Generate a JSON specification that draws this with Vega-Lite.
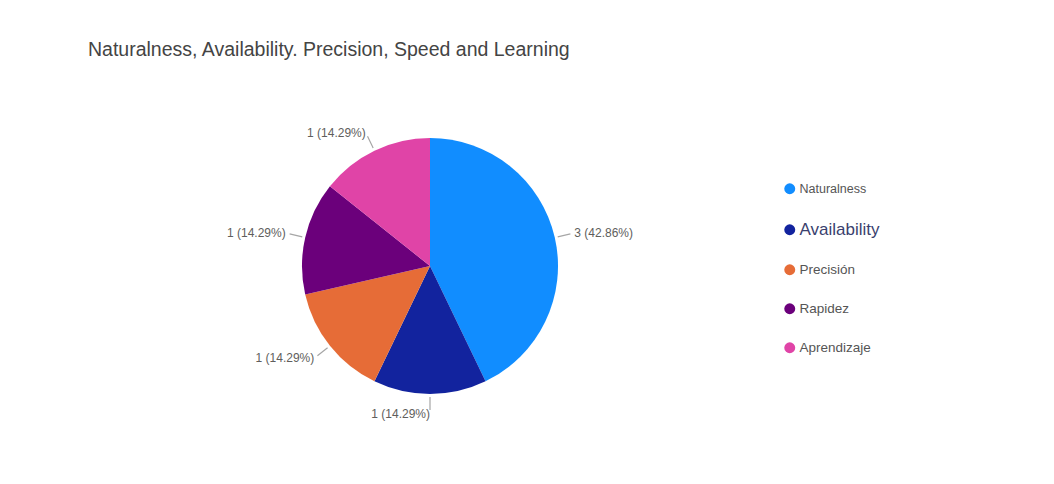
{
  "$schema": "https://vega.github.io/schema/vega-lite/v6.json",
  "autosize": {"type": "fit", "contains": "padding"},
  "width": 1054,
  "height": 484,
  "padding": {"left": 8, "right": 202, "top": 39, "bottom": 14},
  "background": "white",
  "title": {
    "text": "Naturalness, Availability. Precision, Speed and Learning",
    "anchor": "start",
    "dx": 80,
    "offset": 2,
    "font": "Liberation Sans",
    "fontSize": 19.5,
    "fontWeight": "normal",
    "color": "#444444"
  },
  "data": {
    "values": [
      {"category": "Naturalness", "value": 3, "label": "3 (42.86%)", "rank": 1},
      {"category": "Availability", "value": 1, "label": "1 (14.29%)", "rank": 2},
      {"category": "Precisión", "value": 1, "label": "1 (14.29%)", "rank": 3},
      {"category": "Rapidez", "value": 1, "label": "1 (14.29%)", "rank": 4},
      {"category": "Aprendizaje", "value": 1, "label": "1 (14.29%)", "rank": 5}
    ]
  },
  "config": {"view": {"stroke": null}},
  "layer": [
    {
      "mark": {"type": "arc", "outerRadius": 128},
      "encoding": {
        "theta": {"field": "value", "type": "quantitative", "stack": true},
        "order": {"field": "rank", "type": "quantitative"},
        "color": {
          "field": "category",
          "type": "nominal",
          "scale": {
            "domain": ["Naturalness", "Availability", "Precisión", "Rapidez", "Aprendizaje"],
            "range": ["#118dff", "#12239e", "#e66c37", "#6b007b", "#e044a7"]
          },
          "legend": {
            "title": null,
            "orient": "none",
            "legendX": 775,
            "legendY": 120,
            "padding": 0,
            "symbolType": "circle",
            "symbolSize": 120,
            "symbolStrokeWidth": 0,
            "labelFont": "Liberation Sans",
            "labelColor": "#555555",
            "labelFontSize": 14,
            "labelOffset": 3,
            "rowPadding": 24,
            "encode": {
              "labels": {
                "update": {
                  "fontSize": {"signal": "datum.value === 'Availability' ? 17 : datum.value === 'Naturalness' ? 12.5 : 13.5"},
                  "fill": {"signal": "datum.value === 'Availability' ? '#3a3f6e' : '#555555'"}
                }
              }
            }
          }
        }
      }
    },
    {
      "mark": {"type": "arc", "innerRadius": 131, "outerRadius": 144, "padAngle": 3, "stroke": "#a6a6a6", "strokeWidth": 1.2, "fillOpacity": 0},
      "encoding": {
        "theta": {"field": "value", "type": "quantitative", "stack": true},
        "order": {"field": "rank", "type": "quantitative"},
        "detail": {"field": "category", "type": "nominal"}
      }
    },
    {
      "mark": {"type": "text", "radius": 148, "align": "left", "baseline": "middle", "font": "Liberation Sans", "fontSize": 12, "color": "#605e5c"},
      "encoding": {
        "theta": {"field": "value", "type": "quantitative", "stack": true},
        "order": {"field": "rank", "type": "quantitative"},
        "detail": {"field": "category", "type": "nominal"},
        "text": {"field": "label", "type": "nominal"},
        "opacity": {"condition": {"test": "datum.category === 'Naturalness'", "value": 1}, "value": 0}
      }
    },
    {
      "mark": {"type": "text", "radius": 148, "align": "right", "baseline": "middle", "font": "Liberation Sans", "fontSize": 12, "color": "#605e5c"},
      "encoding": {
        "theta": {"field": "value", "type": "quantitative", "stack": true},
        "order": {"field": "rank", "type": "quantitative"},
        "detail": {"field": "category", "type": "nominal"},
        "text": {"field": "label", "type": "nominal"},
        "opacity": {"condition": {"test": "datum.category !== 'Naturalness'", "value": 1}, "value": 0}
      }
    }
  ]
}
